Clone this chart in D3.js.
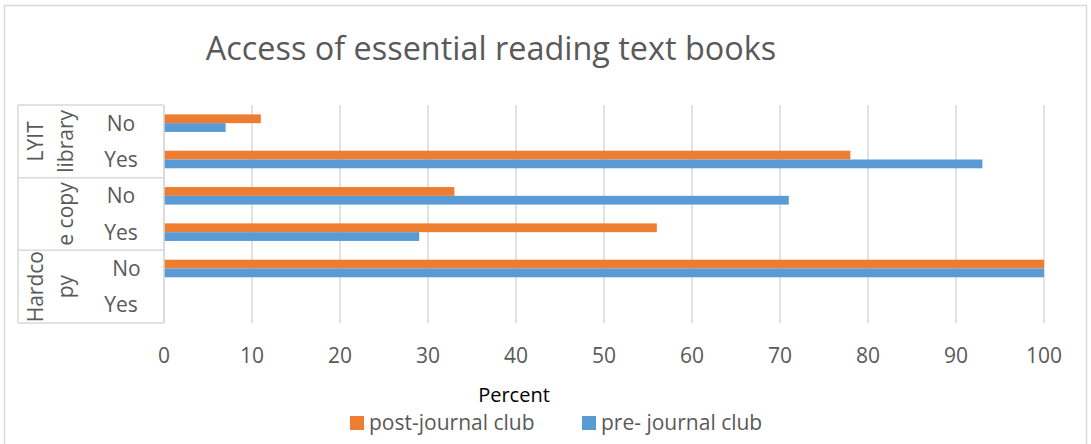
<!DOCTYPE html>
<html>
<head>
<meta charset="utf-8">
<script src="https://cdn.jsdelivr.net/npm/d3@7/dist/d3.min.js"></script>
<style>
  html, body { margin: 0; padding: 0; background: #fff; }
  svg { display: block; font-family: "Open Sans", Lato, sans-serif; }
  text { white-space: pre; }
</style>
</head>
<body>
<svg id="chart" width="1091" height="444"></svg>
<script>
// Categories from bottom to top (first category sits at the bottom)
const groups = ["Hardcopy", " e copy", "LYIT library"];
const groupLines = [["Hardco", "py"], ["", "e copy"], ["LYIT", "library"]];
const answers = [["Yes", "  No"], ["Yes", "No"], ["Yes", "No"]];

// Percent of respondents per row, bottom to top
const preJournalClub  = [0, 100, 29, 71, 93, 7];
const postJournalClub = [0, 100, 56, 33, 78, 11];

const xTicks = [0, 10, 20, 30, 40, 50, 60, 70, 80, 90, 100];
const titleText = "Access of essential reading text books";
const xAxisTitle = "Percent";
const seriesNames = ["post-journal club", "pre- journal club"];

const COLORS = { pre: "#5B9BD5", post: "#ED7D31", grid: "#d9d9d9", text: "#595959" };
const FS = 21;

const svg = d3.select("#chart");

// Outer chart frame
svg.append("rect")
  .attr("x", 4.5).attr("y", 5.5).attr("width", 1082).attr("height", 460)
  .attr("fill", "none").attr("stroke", COLORS.grid).attr("stroke-width", 1.5);

const plot = { left: 164, right: 1044, top: 105, bottom: 323 };

const x = d3.scaleLinear().domain([0, 100]).range([plot.left, plot.right]);

// Rows: build keys from groups x answers
const rows = [];
groups.forEach((g, gi) => answers[gi].forEach((a, ai) => rows.push({ g: gi, a: ai, label: a })));
rows.forEach((r, i) => { r.pre = preJournalClub[i]; r.post = postJournalClub[i]; r.key = i; });

const y = d3.scaleBand()
  .domain(rows.map(r => r.key).reverse())
  .range([plot.top, plot.bottom]);

const inner = d3.scaleBand()
  .domain(["post", "pre"])
  .range([0, y.bandwidth()])
  .paddingInner(0)
  .paddingOuter(1.07);

// Vertical gridlines
svg.append("g").selectAll("line").data(xTicks).join("line")
  .attr("x1", d => x(d)).attr("x2", d => x(d))
  .attr("y1", plot.top).attr("y2", plot.bottom)
  .attr("stroke", COLORS.grid).attr("stroke-width", 1.5);

// Bars
const barG = svg.append("g");
["post", "pre"].forEach(s => {
  barG.selectAll("rect." + s).data(rows).join("rect")
    .attr("class", s)
    .attr("x", x(0))
    .attr("y", d => y(d.key) + inner(s))
    .attr("width", d => x(d[s]) - x(0))
    .attr("height", inner.bandwidth())
    .attr("fill", COLORS[s]);
});

// Multi-level category axis frame
const axisLeft = 18;
const frame = svg.append("g").attr("stroke", COLORS.grid).attr("stroke-width", 1.5);
frame.append("line").attr("x1", plot.left).attr("x2", plot.left).attr("y1", plot.top).attr("y2", plot.bottom);
frame.append("line").attr("x1", axisLeft).attr("x2", axisLeft).attr("y1", plot.top).attr("y2", plot.bottom);
const groupEdges = [plot.top];
groups.forEach((g, gi) => {
  const keys = rows.filter(r => r.g === gi).map(r => r.key);
  const top = d3.min(keys, k => y(k));
  const bot = d3.max(keys, k => y(k) + y.bandwidth());
  groupEdges.push(top, bot);
});
frame.selectAll("line.edge").data(Array.from(new Set(groupEdges.map(v => Math.round(v * 10) / 10)))).join("line")
  .attr("class", "edge")
  .attr("x1", axisLeft).attr("x2", plot.left)
  .attr("y1", d => d).attr("y2", d => d);

// Answer labels (No / Yes)
svg.append("g").selectAll("text").data(rows).join("text")
  .attr("x", 121)
  .attr("y", d => y(d.key) + y.bandwidth() / 2)
  .attr("dy", "0.36em")
  .attr("text-anchor", "middle")
  .attr("font-size", FS)
  .attr("fill", COLORS.text)
  .text(d => d.label);

// Group labels, rotated and wrapped
groups.forEach((g, gi) => {
  const keys = rows.filter(r => r.g === gi).map(r => r.key);
  const cy = (d3.min(keys, k => y(k)) + d3.max(keys, k => y(k) + y.bandwidth())) / 2;
  const lineX = [43, 73];
  groupLines[gi].forEach((ln, li) => {
    if (!ln) return;
    svg.append("text")
      .attr("transform", `translate(${lineX[li]},${cy}) rotate(-90)`)
      .attr("text-anchor", "middle")
      .attr("font-size", FS)
      .attr("fill", COLORS.text)
      .text(ln);
  });
});

// X tick labels
svg.append("g").selectAll("text").data(xTicks).join("text")
  .attr("x", d => x(d))
  .attr("y", 363)
  .attr("text-anchor", "middle")
  .attr("font-size", FS)
  .attr("fill", COLORS.text)
  .text(d => d);

// Title
svg.append("text")
  .attr("x", 491).attr("y", 60)
  .attr("text-anchor", "middle")
  .attr("font-size", 32.4)
  .attr("fill", COLORS.text)
  .text(titleText);

// Axis title
svg.append("text")
  .attr("x", 514).attr("y", 401.5)
  .attr("text-anchor", "middle")
  .attr("font-size", 20)
  .attr("fill", "#000")
  .text(xAxisTitle);

// Legend
const legend = [
  { name: seriesNames[0], color: COLORS.post, x: 350 },
  { name: seriesNames[1], color: COLORS.pre, x: 582 }
];
const lg = svg.append("g").selectAll("g").data(legend).join("g")
  .attr("transform", d => `translate(${d.x},0)`);
lg.append("rect").attr("x", 0).attr("y", 416).attr("width", 14).attr("height", 14).attr("fill", d => d.color);
lg.append("text").attr("x", 19).attr("y", 430)
  .attr("font-size", FS).attr("fill", COLORS.text)
  .text(d => d.name);
</script>
</body>
</html>
